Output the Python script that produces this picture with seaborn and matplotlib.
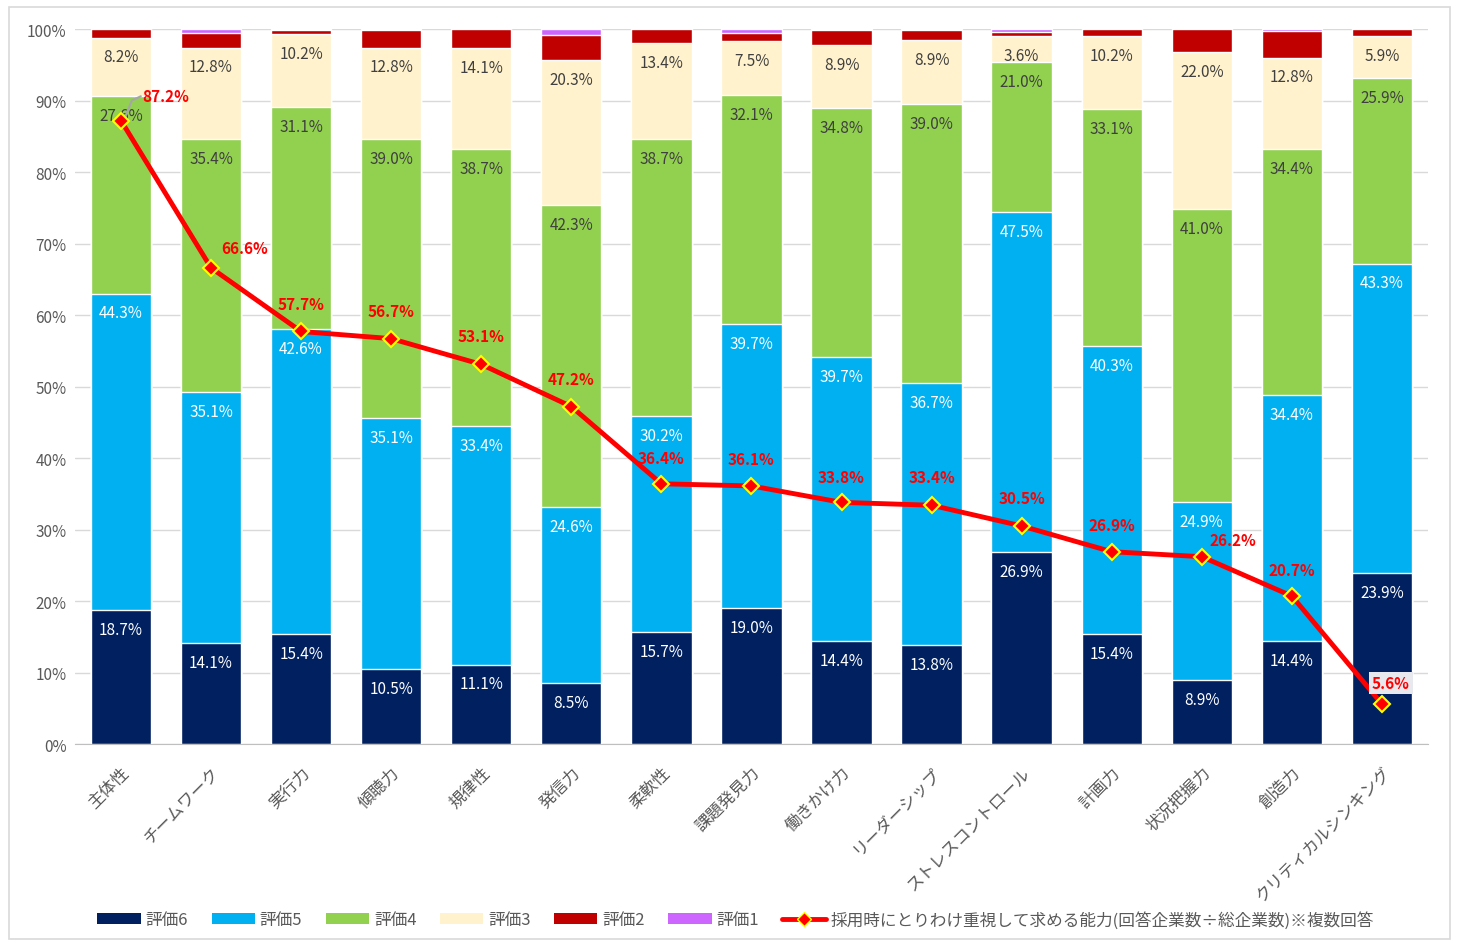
import numpy as np
import pandas as pd
import seaborn as sns
import matplotlib.pyplot as plt
from matplotlib.patches import Rectangle, Patch
from matplotlib.lines import Line2D

# data
categories = ['主体性', 'チームワーク', '実行力', '傾聴力', '規律性', '発信力', '柔軟性',
              '課題発見力', '働きかけ力', 'リーダーシップ', 'ストレスコントロール', '計画力',
              '状況把握力', '創造力', 'クリティカルシンキング']
rate6 = [18.7, 14.1, 15.4, 10.5, 11.1, 8.5, 15.7, 19.0, 14.4, 13.8, 26.9, 15.4, 8.9, 14.4, 23.9]
rate5 = [44.3, 35.1, 42.6, 35.1, 33.4, 24.6, 30.2, 39.7, 39.7, 36.7, 47.5, 40.3, 24.9, 34.4, 43.3]
rate4 = [27.6, 35.4, 31.1, 39.0, 38.7, 42.3, 38.7, 32.1, 34.8, 39.0, 21.0, 33.1, 41.0, 34.4, 25.9]
rate3 = [8.2, 12.8, 10.2, 12.8, 14.1, 20.3, 13.4, 7.5, 8.9, 8.9, 3.6, 10.2, 22.0, 12.8, 5.9]
rate2 = [1.2, 2.0, 0.6, 2.5, 2.7, 3.5, 2.0, 1.1, 2.1, 1.5, 0.6, 1.0, 3.2, 3.7, 1.0]
rate1 = [0.0, 0.6, 0.1, 0.1, 0.0, 0.8, 0.0, 0.6, 0.1, 0.1, 0.4, 0.0, 0.0, 0.3, 0.0]
emphasis = [87.2, 66.6, 57.7, 56.7, 53.1, 47.2, 36.4, 36.1, 33.8, 33.4, 30.5, 26.9, 26.2, 20.7, 5.6]

series_names = ['評価6', '評価5', '評価4', '評価3', '評価2', '評価1']
colors = ['#002060', '#00B0F0', '#92D050', '#FFF2CC', '#C00000', '#CC66FF']
line_label = '採用時にとりわけ重視して求める能力(回答企業数÷総企業数)※複数回答'

sns.set_style('white')
plt.rcParams['font.family'] = ['Noto Sans CJK JP', 'DejaVu Sans']

df = pd.DataFrame({'cat': categories, '評価6': rate6, '評価5': rate5, '評価4': rate4,
                   '評価3': rate3, '評価2': rate2, '評価1': rate1})
cum = df[series_names].cumsum(axis=1)
cum = cum.div(cum['評価1'], axis=0) * 100  # normalise to 100%

fig = plt.figure(figsize=(14.57, 9.45), dpi=100)
ax = fig.add_axes([0.0515, 0.2116, 0.9285, 0.7566])

# stacked bars: draw cumulative heights from the top layer down
for name, col in reversed(list(zip(series_names, colors))):
    sns.barplot(x=df['cat'], y=cum[name], color=col, width=0.67, ax=ax,
                saturation=1, order=categories, zorder=2)

# segment labels (inside end)
x = np.arange(len(categories))
for name, tc in zip(['評価6', '評価5', '評価4', '評価3'], ['white', 'white', '#404040', '#404040']):
    for i in x:
        ax.text(i, cum.loc[i, name] - 2.7, f'{df.loc[i, name]:.1f}%', ha='center', va='center',
                fontsize=11, color=tc, zorder=5)

# line
sns.lineplot(x=x, y=emphasis, ax=ax, color='#FF0000', lw=3.5, marker='D', markersize=8,
             markerfacecolor='#FF0000', markeredgecolor='#FFFF00', markeredgewidth=1.5, zorder=6)

offsets = [(0.5, 3.4), (0.37, 2.8), (0, 3.9), (0, 3.9), (0, 3.9), (0, 3.8), (0, 3.6), (0, 3.8),
           (0, 3.6), (0, 3.9), (0, 3.9), (0, 3.8), (0.34, 2.4), (0, 3.6), (0.1, 2.9)]
for i, (v, (dx, dy)) in enumerate(zip(emphasis, offsets)):
    kw = {}
    if i == len(emphasis) - 1:
        kw['bbox'] = dict(boxstyle='square,pad=0.2', fc='#E7E9EE', ec='none')
    ax.text(i + dx, v + dy, f'{v:.1f}%', ha='center', va='center', fontsize=11,
            color='#FF0000', fontweight='bold', zorder=7, **kw)
ax.plot([0.05, 0.12, 0.22], [emphasis[0] + 0.6, emphasis[0] + 2.8, emphasis[0] + 3.4],
        color='#A6A6A6', lw=1.5, zorder=5)

ax.set_xlim(-0.51, len(categories) - 0.49)
ax.set_ylim(0, 100)
ax.set_yticks(range(0, 101, 10))
ax.set_yticklabels([f'{t}%' for t in range(0, 101, 10)], fontsize=11, color='#595959')
ax.yaxis.grid(True, color='#D9D9D9', lw=1, zorder=0)
ax.set_axisbelow(True)
ax.set_xlabel('')
ax.set_ylabel('')
ax.set_xticks(x)
ax.set_xticklabels(categories, rotation=45, ha='right', rotation_mode='anchor',
                   fontsize=12, color='#595959')
ax.tick_params(axis='x', length=0, pad=14)
ax.tick_params(axis='y', length=0, pad=6)
ax.set_xticks(np.arange(-0.5, len(categories)), minor=True)
ax.tick_params(axis='x', which='minor', length=6, color='#BFBFBF')
for s in ['top', 'right', 'left']:
    ax.spines[s].set_visible(False)
ax.spines['bottom'].set_color('#BFBFBF')

handles = [Patch(facecolor=c, edgecolor='none', label=n) for n, c in zip(series_names, colors)]
handles.append(Line2D([0], [0], color='#FF0000', lw=3.5, marker='D', markersize=7,
                      markerfacecolor='#FF0000', markeredgecolor='#FFFF00', label=line_label))
fig.legend(handles=handles, loc='center', bbox_to_anchor=(0.505, 0.026), ncol=7, frameon=False,
           fontsize=12, labelcolor='#595959', handlelength=2.6, handleheight=0.6,
           handletextpad=0.3, columnspacing=1.4)

fig.patches.append(Rectangle((0.006, 0.005), 0.989, 0.987, transform=fig.transFigure,
                             fill=False, ec='#D9D9D9', lw=1.2))

fig.savefig('out.png', dpi=100)
